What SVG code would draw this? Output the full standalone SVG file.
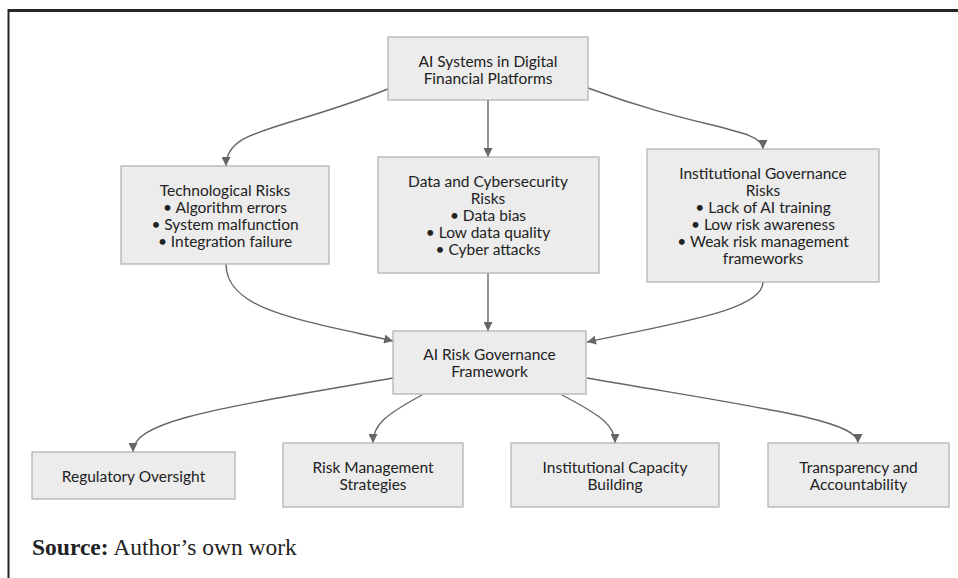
<svg xmlns="http://www.w3.org/2000/svg" width="958" height="578" viewBox="0 0 958 578">
<style>
.n rect{fill:#ececec;stroke:#b4b4b4;stroke-width:1.3}
.n text{font-family:Lato,"Open Sans",sans-serif;font-size:15.5px;fill:#222;text-anchor:middle}
.e path{fill:none;stroke:#666;stroke-width:1.4}
</style>
<defs>
<marker id="ah" viewBox="0 0 10 10" refX="10" refY="5" markerWidth="9" markerHeight="9" markerUnits="userSpaceOnUse" orient="auto">
<path d="M0,0 L10,5 L0,10 z" fill="#666"/>
</marker>
</defs>
<rect x="0" y="0" width="958" height="578" fill="#fff"/>
<line x1="8" y1="10.5" x2="958" y2="10.5" stroke="#262626" stroke-width="3"/>
<line x1="8.5" y1="9" x2="8.5" y2="578" stroke="#262626" stroke-width="2"/>

<g class="e">
<path d="M388,89 C280,132 226,128 226,166" marker-end="url(#ah)"/>
<path d="M488,100 L488,157" marker-end="url(#ah)"/>
<path d="M588,88 C700,130 763,128 763,149" marker-end="url(#ah)"/>
<path d="M226,264 C226,310 300,320 393,341" marker-end="url(#ah)"/>
<path d="M488,273 L488,331" marker-end="url(#ah)"/>
<path d="M763,282 C763,310 680,322 587,342" marker-end="url(#ah)"/>
<path d="M393,378 C220,408 133,420 133,452" marker-end="url(#ah)"/>
<path d="M422,395 C385,415 373,425 373,443" marker-end="url(#ah)"/>
<path d="M562,395 C600,415 615,425 615,443" marker-end="url(#ah)"/>
<path d="M587,378 C760,408 858,420 858,443" marker-end="url(#ah)"/>
</g>

<g id="top" class="n"><rect x="388" y="37" width="200" height="63"/>
<text x="488" y="66.5">AI Systems in Digital</text><text x="488" y="83.5">Financial Platforms</text></g>

<g id="tech" class="n"><rect x="121" y="166" width="208" height="98"/>
<text x="225" y="196">Technological Risks</text><text x="225" y="213">• Algorithm errors</text><text x="225" y="230">• System malfunction</text><text x="225" y="247">• Integration failure</text></g>

<g id="data" class="n"><rect x="378" y="157" width="221" height="116"/>
<text x="488" y="187">Data and Cybersecurity</text><text x="488" y="204">Risks</text><text x="488" y="221">• Data bias</text><text x="488" y="238">• Low data quality</text><text x="488" y="255">• Cyber attacks</text></g>

<g id="inst" class="n"><rect x="647" y="149" width="232" height="133"/>
<text x="763" y="179">Institutional Governance</text><text x="763" y="196">Risks</text><text x="763" y="213">• Lack of AI training</text><text x="763" y="230">• Low risk awareness</text><text x="763" y="247">• Weak risk management</text><text x="763" y="264">frameworks</text></g>

<g id="gov" class="n"><rect x="393" y="331" width="193" height="63"/>
<text x="489.5" y="360">AI Risk Governance</text><text x="489.5" y="377">Framework</text></g>

<g id="reg" class="n"><rect x="32" y="452" width="203" height="47"/>
<text x="133.5" y="482">Regulatory Oversight</text></g>

<g id="rms" class="n"><rect x="283" y="443" width="180" height="64"/>
<text x="373" y="473">Risk Management</text><text x="373" y="490">Strategies</text></g>

<g id="icb" class="n"><rect x="511" y="443" width="208" height="64"/>
<text x="615" y="473">Institutional Capacity</text><text x="615" y="490">Building</text></g>

<g id="ta" class="n"><rect x="768" y="443" width="181" height="64"/>
<text x="858.5" y="473">Transparency and</text><text x="858.5" y="490">Accountability</text></g>

<text x="32" y="555" font-family="'Liberation Serif',serif" font-size="23.5" fill="#222"><tspan font-weight="bold">Source:</tspan> Author’s own work</text>
</svg>
